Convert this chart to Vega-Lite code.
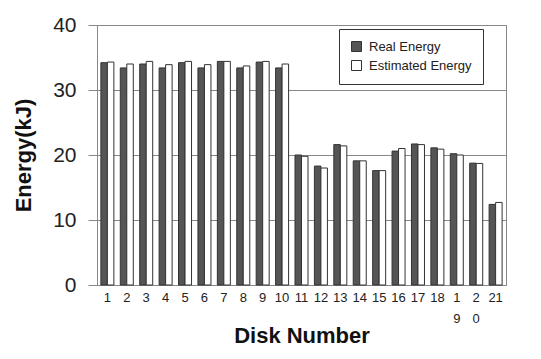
{
  "$schema": "https://vega.github.io/schema/vega-lite/v6.json",
  "autosize": "none",
  "padding": {"left": 97, "top": 25, "right": 35, "bottom": 74},
  "width": 409,
  "height": 260,
  "background": "white",
  "config": {
    "font": "Liberation Sans",
    "view": {"stroke": "#888888", "strokeWidth": 1}
  },
  "data": {
    "values": [
      {"disk": 1, "type": "Real Energy", "energy": 34.2}, {"disk": 1, "type": "Estimated Energy", "energy": 34.3},
      {"disk": 2, "type": "Real Energy", "energy": 33.4}, {"disk": 2, "type": "Estimated Energy", "energy": 34.0},
      {"disk": 3, "type": "Real Energy", "energy": 34.0}, {"disk": 3, "type": "Estimated Energy", "energy": 34.4},
      {"disk": 4, "type": "Real Energy", "energy": 33.4}, {"disk": 4, "type": "Estimated Energy", "energy": 33.9},
      {"disk": 5, "type": "Real Energy", "energy": 34.2}, {"disk": 5, "type": "Estimated Energy", "energy": 34.4},
      {"disk": 6, "type": "Real Energy", "energy": 33.4}, {"disk": 6, "type": "Estimated Energy", "energy": 33.9},
      {"disk": 7, "type": "Real Energy", "energy": 34.4}, {"disk": 7, "type": "Estimated Energy", "energy": 34.4},
      {"disk": 8, "type": "Real Energy", "energy": 33.4}, {"disk": 8, "type": "Estimated Energy", "energy": 33.7},
      {"disk": 9, "type": "Real Energy", "energy": 34.3}, {"disk": 9, "type": "Estimated Energy", "energy": 34.4},
      {"disk": 10, "type": "Real Energy", "energy": 33.4}, {"disk": 10, "type": "Estimated Energy", "energy": 34.0},
      {"disk": 11, "type": "Real Energy", "energy": 20.0}, {"disk": 11, "type": "Estimated Energy", "energy": 19.8},
      {"disk": 12, "type": "Real Energy", "energy": 18.3}, {"disk": 12, "type": "Estimated Energy", "energy": 18.0},
      {"disk": 13, "type": "Real Energy", "energy": 21.6}, {"disk": 13, "type": "Estimated Energy", "energy": 21.4},
      {"disk": 14, "type": "Real Energy", "energy": 19.1}, {"disk": 14, "type": "Estimated Energy", "energy": 19.1},
      {"disk": 15, "type": "Real Energy", "energy": 17.6}, {"disk": 15, "type": "Estimated Energy", "energy": 17.6},
      {"disk": 16, "type": "Real Energy", "energy": 20.6}, {"disk": 16, "type": "Estimated Energy", "energy": 21.0},
      {"disk": 17, "type": "Real Energy", "energy": 21.7}, {"disk": 17, "type": "Estimated Energy", "energy": 21.6},
      {"disk": 18, "type": "Real Energy", "energy": 21.1}, {"disk": 18, "type": "Estimated Energy", "energy": 20.9},
      {"disk": 19, "type": "Real Energy", "energy": 20.2}, {"disk": 19, "type": "Estimated Energy", "energy": 20.0},
      {"disk": 20, "type": "Real Energy", "energy": 18.75}, {"disk": 20, "type": "Estimated Energy", "energy": 18.7},
      {"disk": 21, "type": "Real Energy", "energy": 12.4}, {"disk": 21, "type": "Estimated Energy", "energy": 12.7}
    ]
  },
  "mark": {"type": "bar", "stroke": "#333333", "strokeWidth": 1},
  "encoding": {
    "x": {
      "field": "disk",
      "type": "ordinal",
      "scale": {"paddingInner": 0.33, "paddingOuter": 0.2},
      "axis": {
        "title": "Disk Number",
        "titleFont": "Liberation Sans",
        "titleFontSize": 22,
        "titleFontWeight": "bold",
        "titleColor": "#111111",
        "titlePadding": 0,
        "labelAngle": 0,
        "labelFontSize": 13,
        "labelColor": "#222222",
        "labelPadding": 6,
        "labelLineHeight": 21,
        "labelExpr": "datum.label == '19' ? ['1','9'] : datum.label == '20' ? ['2','0'] : datum.label",
        "ticks": false,
        "domainColor": "#888888",
        "grid": false
      }
    },
    "xOffset": {"field": "type", "sort": ["Real Energy", "Estimated Energy"], "scale": {"paddingInner": 0, "paddingOuter": 0}},
    "y": {
      "field": "energy",
      "type": "quantitative",
      "scale": {"domain": [0, 40]},
      "axis": {
        "title": "Energy(kJ)",
        "titleFont": "Liberation Sans",
        "titleFontSize": 22,
        "titleFontWeight": "bold",
        "titleColor": "#111111",
        "titlePadding": 17,
        "values": [0, 10, 20, 30, 40],
        "labelFontSize": 21,
        "labelColor": "#222222",
        "labelPadding": 12,
        "tickSize": 9,
        "tickColor": "#888888",
        "domainColor": "#888888",
        "gridColor": "#888888",
        "gridOpacity": 1
      }
    },
    "color": {
      "field": "type",
      "type": "nominal",
      "sort": ["Real Energy", "Estimated Energy"],
      "scale": {"domain": ["Real Energy", "Estimated Energy"], "range": ["#555555", "#ffffff"]},
      "legend": {
        "title": null,
        "orient": "none",
        "legendX": 242,
        "legendY": 4,
        "strokeColor": "#333333",
        "fillColor": "white",
        "padding": 11,
        "symbolType": "square",
        "symbolSize": 100,
        "symbolStrokeColor": "#333333",
        "symbolStrokeWidth": 1,
        "labelFontSize": 13,
        "labelColor": "#222222",
        "rowPadding": 4,
        "labelOffset": 6
      }
    }
  }
}
